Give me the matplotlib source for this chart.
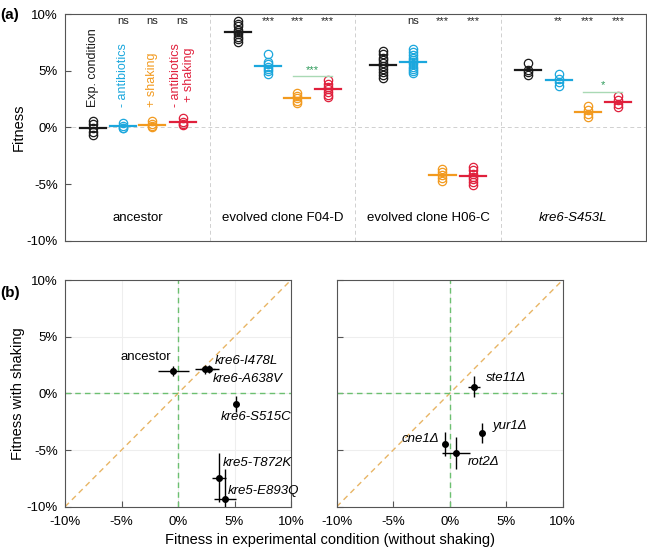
import numpy as np
import matplotlib
matplotlib.use("Agg")
import matplotlib.pyplot as plt

plt.rcParams["font.family"] = ["Liberation Sans", "DejaVu Sans"]
plt.rcParams["font.size"] = 9.5

# ---- panel (a) data: replicate fitness values (%) ----
groups = ["ancestor", "evolved clone F04-D", "evolved clone H06-C", "kre6-S453L"]
conditions = ["Exp. condition", "- antibiotics", "+ shaking", "- antibiotics\n+ shaking"]
colors = ["#1a1a1a", "#1ba7dd", "#f29a1f", "#e0203c"]

ancestor = [
    [0.55, 0.3, -0.1, -0.4, -0.65],
    [0.4, 0.15, -0.05, -0.1],
    [0.6, 0.3, 0.1, 0.0],
    [0.8, 0.5, 0.3, 0.2],
]
f04d = [
    [9.4, 9.15, 8.9, 8.6, 8.4, 8.2, 8.0, 7.8, 7.55],
    [6.45, 5.8, 5.55, 5.35, 5.15, 4.95, 4.75],
    [3.0, 2.75, 2.55, 2.35, 2.15],
    [4.15, 3.85, 3.6, 3.4, 3.1, 2.85, 2.7],
]
h06c = [
    [6.75, 6.45, 6.15, 5.9, 5.65, 5.4, 5.15, 4.9, 4.6, 4.35],
    [6.9, 6.65, 6.4, 6.15, 5.95, 5.75, 5.55, 5.35, 5.15, 4.95, 4.8],
    [-3.65, -3.95, -4.2, -4.45, -4.75],
    [-3.5, -3.8, -4.1, -4.35, -4.6, -4.85, -5.1],
]
kre6 = [
    [5.7, 5.1, 4.85, 4.6],
    [4.7, 4.3, 4.0, 3.65],
    [1.9, 1.5, 1.2, 0.95],
    [2.8, 2.4, 2.1, 1.8],
]
all_data = [ancestor, f04d, h06c, kre6]

# significance vs exp. condition (for conditions 2..4)
sig = [
    ["ns", "ns", "ns"],
    ["***", "***", "***"],
    ["ns", "***", "***"],
    ["**", "***", "***"],
]
# shaking vs antibiotics+shaking comparisons: (group, label, y)
pair_sig = [(1, "***", 4.5), (3, "*", 3.15)]

# ---- panel (b) data ----
muts_left = ["ancestor", "kre6-I478L", "kre6-A638V", "kre6-S515C", "kre5-T872K", "kre5-E893Q"]
left_x = [-0.42, 2.39, 2.77, 5.13, 3.65, 4.16]
left_y = [2.0, 2.12, 2.12, -0.95, -7.43, -9.35]
left_xerr = [1.37, 0.9, 0.85, 0.1, 0.62, 1.0]
left_yerr = [0.45, 0.4, 0.35, 0.73, 2.17, 2.7]
left_lab_pos = [(-0.6, 3.2, "right"), (3.27, 2.88, "left"), (3.12, 1.29, "left"),
                (3.8, -2.07, "left"), (3.92, -6.14, "left"), (4.36, -8.64, "left")]

muts_right = ["ste11Δ", "yur1Δ", "cne1Δ", "rot2Δ"]
right_x = [2.15, 2.86, -0.41, 0.56]
right_y = [0.59, -3.51, -4.49, -5.28]
right_xerr = [0.55, 0.1, 0.1, 1.25]
right_yerr = [0.93, 0.88, 1.06, 1.41]
right_lab_pos = [(3.2, 1.38, "left"), (3.83, -2.86, "left"), (-0.94, -4.04, "right"),
                 (1.62, -6.08, "left")]

ticks = [-10, -5, 0, 5, 10]
tick_labels = [f"{t}%" for t in ticks]
spine_col = "#555555"

fig = plt.figure(figsize=(6.47, 5.5), dpi=100)

# ================= panel (a) =================
ax = fig.add_axes([0.1005, 0.5624, 0.8975, 0.4121])
offsets = [0.19, 0.40, 0.60, 0.81]
for g, gdata in enumerate(all_data):
    for c, vals in enumerate(gdata):
        xpos = g + offsets[c]
        ax.plot([xpos] * len(vals), vals, "o", mfc="none", mec=colors[c], ms=6, mew=0.9)
        m = np.mean(vals)
        ax.plot([xpos - 0.09, xpos + 0.09], [m, m], color=colors[c], lw=1.6)
    for c in range(3):
        ax.text(g + offsets[c + 1], 9.4, sig[g][c], ha="center", va="center",
                fontsize=8, color="#222222")
    ax.text(g + 0.5, -8.0, groups[g], ha="center", va="center", fontsize=9.5,
            style="italic" if g == 3 else "normal")
    if g > 0:
        ax.axvline(g, color="#d0d0d0", ls=(0, (4, 3)), lw=0.7)

for g, lab, yv in pair_sig:
    ax.plot([g + offsets[2] - 0.03, g + offsets[3] + 0.03], [yv, yv], color="#a9d9b4", lw=1.0)
    ax.text(g + 0.5 * (offsets[2] + offsets[3]), yv + 0.15, lab, ha="center", va="bottom",
            fontsize=8, color="#2e9a5a")

for c in range(4):
    ax.text(offsets[c], 1.8, conditions[c], rotation=90, ha="center", va="bottom",
            color=colors[c], fontsize=9, linespacing=1.05)

ax.axhline(0, color="#d0d0d0", ls=(0, (4, 3)), lw=0.7, zorder=0)
ax.set_xlim(0, 4)
ax.set_ylim(-10, 10)
ax.set_xticks([])
ax.set_yticks(ticks)
ax.set_yticklabels(tick_labels)
ax.tick_params(direction="in", length=4, color=spine_col, pad=5)
for s in ax.spines.values():
    s.set_color(spine_col)
ax.set_ylabel("Fitness", fontsize=10.5, labelpad=1)
fig.text(0.0, 0.985, "(a)", fontsize=11, fontweight="bold", va="top", ha="left")


# ================= panel (b) =================
def scatter_panel(axb, xs, ys, xerr, yerr, names, lab_pos):
    axb.plot([-10, 10], [-10, 10], color="#e8b565", ls=(0, (4, 3)), lw=1.0, zorder=1)
    axb.axhline(0, color="#6cc070", ls=(0, (4, 3)), lw=1.0, zorder=1)
    axb.axvline(0, color="#6cc070", ls=(0, (4, 3)), lw=1.0, zorder=1)
    axb.errorbar(xs, ys, xerr=xerr, yerr=yerr, fmt="o", color="black", ms=4,
                 elinewidth=1.0, capsize=0, zorder=3)
    for name, (tx, ty, ha) in zip(names, lab_pos):
        italic = name != "ancestor"
        axb.text(tx, ty, name, ha=ha, va="center", fontsize=9.5,
                 style="italic" if italic else "normal")
    axb.set_xlim(-10, 10)
    axb.set_ylim(-10, 10)
    axb.set_xticks(ticks)
    axb.set_xticklabels(tick_labels)
    axb.set_yticks(ticks)
    axb.grid(True, color="#eeeeee", lw=0.8)
    axb.set_axisbelow(True)
    axb.tick_params(direction="in", length=4, color=spine_col, pad=5)
    axb.tick_params(axis="x", pad=7)
    for s in axb.spines.values():
        s.set_color(spine_col)


axl = fig.add_axes([0.1005, 0.0787, 0.3493, 0.4122])
scatter_panel(axl, left_x, left_y, left_xerr, left_yerr, muts_left, left_lab_pos)
axl.set_yticklabels(tick_labels)
axl.set_ylabel("Fitness with shaking", fontsize=10.5, labelpad=1)

axr = fig.add_axes([0.5204, 0.0787, 0.3493, 0.4122])
scatter_panel(axr, right_x, right_y, right_xerr, right_yerr, muts_right, right_lab_pos)
axr.set_yticklabels([])

fig.text(0.51, 0.018, "Fitness in experimental condition (without shaking)",
         ha="center", va="center", fontsize=10.5)
fig.text(0.0, 0.468, "(b)", fontsize=11, fontweight="bold", va="center", ha="left")

fig.savefig("out.png", dpi=100)
